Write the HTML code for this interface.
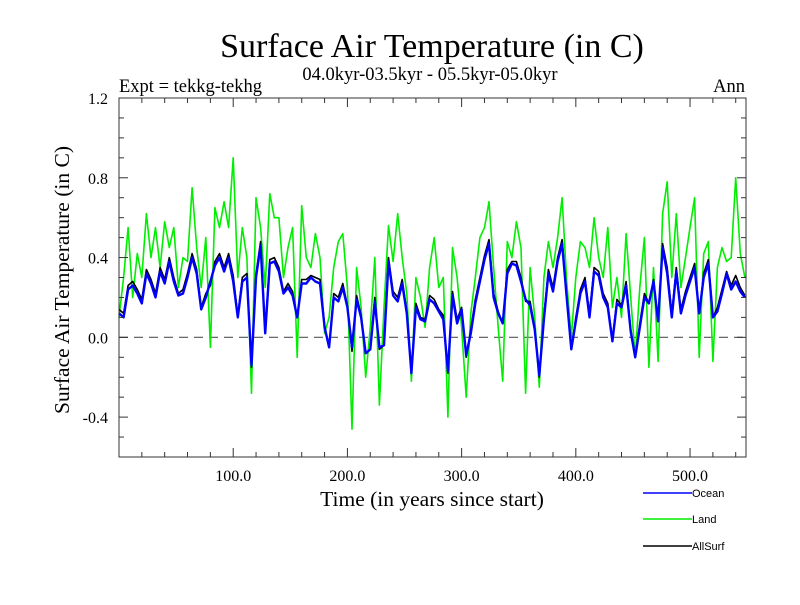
<!DOCTYPE html>
<html><head><meta charset="utf-8"><style>
body{margin:0;background:#fff;}
svg text{font-family:"Liberation Serif",serif;}
</style></head><body>
<svg id="chart" width="800" height="600" xmlns="http://www.w3.org/2000/svg">
<text x="432" y="57" font-size="34" text-anchor="middle">Surface Air Temperature (in C)</text>
<text x="430" y="80" font-size="18.5" text-anchor="middle">04.0kyr-03.5kyr - 05.5kyr-05.0kyr</text>
<text x="119" y="92" font-size="18.5">Expt = tekkg-tekhg</text>
<text x="745" y="92" font-size="18.5" text-anchor="end">Ann</text>
<text transform="translate(69,280) rotate(-90)" font-size="21.5" text-anchor="middle">Surface Air Temperature (in C)</text>
<text x="432" y="506" font-size="21.5" text-anchor="middle">Time (in years since start)</text>
<g id="marks"></g>
<g id="axes"></g>
<g>
<line x1="643" y1="493" x2="692" y2="493" stroke="#0000ff" stroke-width="1.5"/>
<text x="692" y="497" font-size="11" style="font-family:'Liberation Sans',sans-serif">Ocean</text>
<line x1="643" y1="519" x2="692" y2="519" stroke="#00ee00" stroke-width="1.5"/>
<text x="692" y="523" font-size="11" style="font-family:'Liberation Sans',sans-serif">Land</text>
<line x1="643" y1="546" x2="692" y2="546" stroke="#000" stroke-width="1.5"/>
<text x="692" y="550" font-size="11" style="font-family:'Liberation Sans',sans-serif">AllSurf</text>
</g>
</svg>
<script>
const years = [];
for (let y = 0; y <= 548; y += 4) years.push(y);
const ocean = [0.12,0.10,0.24,0.26,0.22,0.17,0.32,0.27,0.20,0.33,0.27,0.38,0.28,0.21,0.22,0.30,0.40,0.32,0.14,0.20,0.28,0.36,0.40,0.33,0.40,0.28,0.10,0.28,0.30,-0.14,0.30,0.46,0.02,0.37,0.38,
0.33,0.22,0.25,0.21,0.10,0.27,0.27,0.30,0.28,0.27,0.05,-0.05,0.20,0.18,0.25,0.15,-0.05,0.19,0.10,-0.08,-0.06,0.18,-0.05,-0.04,0.38,0.21,0.18,0.27,0.12,-0.18,0.15,0.09,0.08,
0.19,0.17,0.13,0.09,-0.17,0.21,0.07,0.14,-0.09,0.02,0.17,0.28,0.39,0.47,0.20,0.12,0.07,0.32,0.37,0.36,0.28,0.19,0.16,0.04,-0.19,0.09,0.32,0.23,0.38,0.47,0.20,-0.06,0.08,0.22,
0.28,0.10,0.33,0.31,0.20,0.15,-0.02,0.17,0.15,0.26,0.03,-0.10,0.05,0.20,0.17,0.28,0.08,0.45,0.32,0.10,0.33,0.12,0.21,0.28,0.35,0.12,0.30,0.37,0.10,0.13,0.22,0.32,0.24,0.28,0.23,0.20];
const land = [0.10,0.30,0.55,0.20,0.42,0.30,0.62,0.40,0.55,0.35,0.58,0.45,0.55,0.25,0.40,0.38,0.75,0.45,0.25,0.50,-0.05,0.65,0.55,0.68,0.55,0.90,0.30,0.55,0.40,-0.28,0.70,0.55,0.25,0.72,0.60,
0.60,0.30,0.45,0.55,-0.10,0.66,0.40,0.35,0.52,0.40,0.02,0.10,0.35,0.48,0.52,0.25,-0.46,0.35,0.15,-0.20,0.05,0.40,-0.34,0.15,0.56,0.38,0.62,0.40,0.22,-0.22,0.30,0.20,0.05,
0.35,0.50,0.25,0.30,-0.40,0.45,0.30,0.05,-0.30,0.12,0.30,0.50,0.55,0.68,0.35,0.05,-0.22,0.48,0.40,0.58,0.45,-0.28,0.35,0.10,-0.25,0.30,0.48,0.35,0.50,0.70,0.28,0.00,0.30,0.48,
0.45,0.35,0.60,0.40,0.30,0.55,0.15,0.30,0.10,0.52,0.20,-0.10,0.25,0.50,-0.15,0.35,-0.12,0.62,0.78,0.30,0.62,0.25,0.40,0.55,0.70,-0.10,0.42,0.48,-0.12,0.35,0.45,0.38,0.40,0.80,0.42,0.30];
const allsurf = [0.14,0.12,0.26,0.28,0.24,0.19,0.34,0.29,0.22,0.35,0.29,0.40,0.30,0.22,0.24,0.32,0.42,0.34,0.15,0.22,0.26,0.38,0.42,0.35,0.42,0.31,0.11,0.30,0.32,-0.15,0.32,0.48,0.04,0.39,0.40,
0.35,0.23,0.27,0.23,0.10,0.29,0.29,0.31,0.30,0.29,0.06,-0.05,0.22,0.20,0.27,0.16,-0.07,0.21,0.11,-0.08,-0.06,0.20,-0.06,-0.04,0.40,0.23,0.20,0.29,0.13,-0.18,0.17,0.10,0.09,
0.21,0.19,0.14,0.11,-0.18,0.23,0.09,0.15,-0.10,0.04,0.19,0.30,0.41,0.49,0.22,0.13,0.07,0.34,0.38,0.38,0.30,0.18,0.18,0.05,-0.20,0.11,0.34,0.25,0.40,0.49,0.21,-0.06,0.10,0.24,
0.30,0.12,0.35,0.33,0.22,0.17,-0.01,0.19,0.16,0.28,0.04,-0.10,0.07,0.22,0.17,0.29,0.08,0.47,0.35,0.12,0.35,0.14,0.23,0.30,0.37,0.12,0.32,0.39,0.10,0.15,0.24,0.33,0.26,0.31,0.25,0.21];
const yTickLabels = ["1.2","0.8","0.4","0.0","-0.4"];
const xTickLabels = ["100.0","200.0","300.0","400.0","500.0"];

const L=119,R=746,T=98,B=457;
const xs = v => L + (v/549)*(R-L);
const ys = v => B - (v+0.6)/1.8*(B-T);
const NS="http://www.w3.org/2000/svg";
const marks=document.getElementById('marks');
const axes=document.getElementById('axes');
function mk(tag,parent){const e=document.createElementNS(NS,tag);parent.appendChild(e);return e;}

const zero=mk('line',marks);
zero.setAttribute('x1',L);zero.setAttribute('x2',R);zero.setAttribute('y1',ys(0));zero.setAttribute('y2',ys(0));
zero.setAttribute('stroke','#555');zero.setAttribute('stroke-dasharray','9,6');zero.setAttribute('stroke-width','1.2');



function series(vals,color,name,w){
  const p=mk('polyline',marks);
  p.setAttribute('points',vals.map((v,i)=>xs(years[i]).toFixed(1)+','+ys(v).toFixed(1)).join(' '));
  p.setAttribute('fill','none');p.setAttribute('stroke',color);p.setAttribute('stroke-width',w);
  p.setAttribute('stroke-linejoin','round');
  
  
}
series(land,'#00ee00','land-series',1.6);
series(allsurf,'#000','allsurf-series',1.6);
series(ocean,'#0000ff','ocean-series',2.4);

const frame=mk('rect',axes);
frame.setAttribute('x',L);frame.setAttribute('y',T);frame.setAttribute('width',R-L);frame.setAttribute('height',B-T);
frame.setAttribute('fill','none');frame.setAttribute('stroke','#333');frame.setAttribute('stroke-width','1');



function tick(x1,y1,x2,y2,name){const t=mk('line',axes);t.setAttribute('x1',x1);t.setAttribute('y1',y1);t.setAttribute('x2',x2);t.setAttribute('y2',y2);t.setAttribute('stroke','#333');

}
for(let k=-6;k<=12;k++){const v=k/10,y=ys(v),len=(k%4===0)?9:5;
  tick(L,y,L+len,y,'y-tick');tick(R,y,R-len,y,'y-tick-right');}
for(let yr=20;yr<549;yr+=20){const x=xs(yr),len=(yr%100===0)?9:5;
  tick(x,B,x,B-len,'x-tick');tick(x,T,x,T+len,'x-tick-top');}
yTickLabels.forEach(s=>{const t=mk('text',axes);t.textContent=s;t.setAttribute('x',L-11);t.setAttribute('y',ys(parseFloat(s))+6);
  t.setAttribute('font-size','16');t.setAttribute('text-anchor','end');
  
  });
xTickLabels.forEach(s=>{const t=mk('text',axes);t.textContent=s;t.setAttribute('x',xs(parseFloat(s)));t.setAttribute('y',B+24);
  t.setAttribute('font-size','16');t.setAttribute('text-anchor','middle');
  
  });
</script>
</body></html>
